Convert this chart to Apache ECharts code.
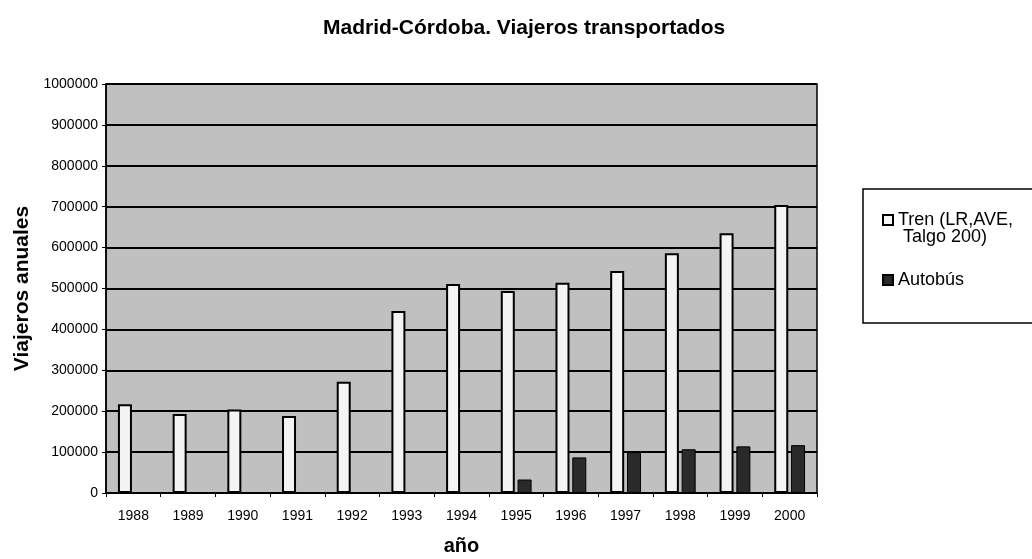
<!DOCTYPE html>
<html>
<head>
<meta charset="utf-8">
<script src="https://cdn.jsdelivr.net/npm/echarts@6/dist/echarts.min.js"></script>
<style>
  html, body { margin: 0; padding: 0; background: #ffffff; }
  #chart { width: 1032px; height: 559px; }
</style>
</head>
<body>
<div id="chart"></div>
<script>
// Annual passengers on the Madrid–Córdoba route
const years = ['1988', '1989', '1990', '1991', '1992', '1993', '1994',
               '1995', '1996', '1997', '1998', '1999', '2000'];
const tren = [217000, 193000, 204000, 188000, 272000, 445000, 511000,
              494000, 514000, 543000, 586000, 635000, 704000];
const autobus = [null, null, null, null, null, null, null,
                 33000, 87000, 100000, 107000, 114000, 117000];
const yMin = 0;
const yMax = 1000000;
const yStep = 100000;

const FONT = '"Liberation Sans", Arial, Helvetica, sans-serif';

const chart = echarts.init(document.getElementById('chart'), null, { renderer: 'canvas' });

chart.setOption({
  animation: false,
  backgroundColor: '#ffffff',
  textStyle: { fontFamily: FONT, color: '#000' },
  title: {
    text: 'Madrid-Córdoba. Viajeros transportados',
    left: 318,
    top: 13,
    textStyle: { fontFamily: FONT, fontSize: 21, fontWeight: 'bold', color: '#000' }
  },
  grid: {
    left: 106, right: 215, top: 84, bottom: 66,
    outerBoundsMode: 'none',
    containLabel: false,
    show: true,
    backgroundColor: '#c0c0c0',
    borderColor: '#000',
    borderWidth: 1.5
  },
  legend: {
    orient: 'vertical',
    left: 882,
    top: 194,
    padding: 0,
    itemGap: 25,
    itemWidth: 10,
    itemHeight: 10,
    icon: 'rect',
    data: ['Tren', 'Autobús'],
    formatter: function (name) {
      if (name === 'Tren') {
        return '{s| }\n{a|Tren (LR,AVE,}\n{b|Talgo 200)}';
      }
      return '{a|' + name + '}';
    },
    textStyle: {
      fontFamily: FONT,
      fontSize: 18,
      color: '#000',
      rich: {
        s: { fontSize: 18, lineHeight: 17, fontFamily: FONT },
        a: { fontSize: 18, lineHeight: 17, fontFamily: FONT, color: '#000' },
        b: { fontSize: 18, lineHeight: 17, fontFamily: FONT, color: '#000', padding: [0, 0, 0, 5] }
      }
    }
  },
  graphic: [{
    type: 'rect',
    shape: { x: 863, y: 189, width: 190, height: 134 },
    style: { fill: 'none', stroke: '#000', lineWidth: 1.5 },
    z: 0
  }],
  xAxis: {
    type: 'category',
    data: years,
    name: 'año',
    nameLocation: 'middle',
    nameGap: 43,
    nameTextStyle: { fontFamily: FONT, fontSize: 20, fontWeight: 'bold', color: '#000' },
    axisLine: { show: true, lineStyle: { color: '#000', width: 1.5 } },
    axisTick: { show: true, alignWithLabel: false, length: 4, lineStyle: { color: '#000', width: 1 } },
    axisLabel: { fontFamily: FONT, fontSize: 14, color: '#000', margin: 16 },
    splitLine: { show: false }
  },
  yAxis: {
    type: 'value',
    min: yMin,
    max: yMax,
    interval: yStep,
    name: 'Viajeros anuales',
    nameLocation: 'middle',
    nameGap: 72,
    nameTextStyle: { fontFamily: FONT, fontSize: 21, fontWeight: 'bold', color: '#000' },
    axisLine: { show: true, lineStyle: { color: '#000', width: 1.5 } },
    axisTick: { show: true, length: 4, lineStyle: { color: '#000', width: 1 } },
    axisLabel: {
      fontFamily: FONT, fontSize: 14, color: '#000', margin: 8,
      formatter: function (v) { return String(v); }
    },
    splitLine: { show: true, lineStyle: { color: '#000', width: 1.8 } }
  },
  series: [
    {
      name: 'Tren',
      type: 'bar',
      data: tren,
      barWidth: 14,
      barGap: '20%',
      itemStyle: { color: '#f4f4f4', borderColor: '#000', borderWidth: 2 }
    },
    {
      name: 'Autobús',
      type: 'bar',
      data: autobus,
      barWidth: 14,
      itemStyle: { color: '#2a2a2a', borderColor: '#000', borderWidth: 1 }
    }
  ]
});
</script>
</body>
</html>
